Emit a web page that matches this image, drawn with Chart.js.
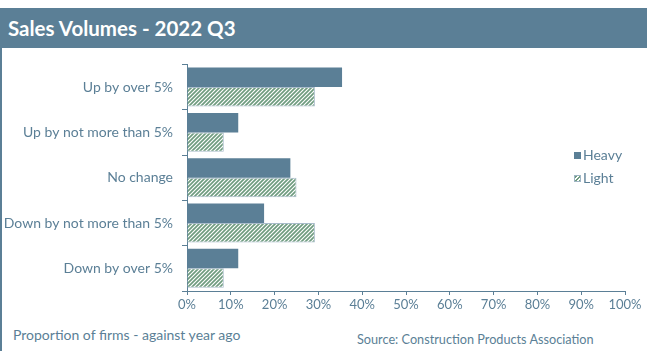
<!DOCTYPE html>
<html>
<head>
<meta charset="utf-8">
<script src="https://cdn.jsdelivr.net/npm/chart.js@4/dist/chart.umd.min.js"></script>
<style>
  html, body { margin: 0; padding: 0; background: #fff; }
  body { width: 647px; height: 351px; position: relative; overflow: hidden; font-family: Lato, "Open Sans", sans-serif; color: #5b7f96; }
  .title-bar { position: absolute; left: 0; top: 8px; width: 647px; height: 40px; background: #5b7f96; }
  .title-bar h1 { margin: 0; padding-left: 8px; font-size: 20.5px; line-height: 40px; font-weight: bold; color: #fff; }
  .side-rule { position: absolute; left: 0; top: 48px; width: 2px; height: 303px; background: #5b7f96; }
  .chart-wrap { position: absolute; left: 0; top: 47px; width: 647px; height: 268px; }
  .legend { position: absolute; left: 574px; top: 146px; font-size: 14px; }
  .legend div { height: 23px; line-height: 18px; }
  .legend span.swatch { display: inline-block; width: 7px; height: 7px; margin-right: 2px; vertical-align: 1px; box-sizing: border-box; }
  .legend span.hatched { border: 1px solid #9fb5c4; background: repeating-linear-gradient(135deg, #6f9c7f 0 1.5px, #ffffff 1.5px 3px); }
  .note { position: absolute; font-size: 14px; }
</style>
</head>
<body>
  <div class="title-bar"><h1>Sales Volumes - 2022 Q3</h1></div>
  <div class="side-rule"></div>
  <div class="chart-wrap"><canvas id="sales-chart" width="647" height="268"></canvas></div>
  <div class="legend" id="legend"></div>
  <div class="note" style="left:13px; top:326px;">Proportion of firms - against year ago</div>
  <div class="note" style="left:357px; top:331px; font-size:12.7px;">Source: Construction Products Association</div>

<script>
const categories = ["Up by over 5%", "Up by not more than 5%", "No change", "Down by not more than 5%", "Down by over 5%"];
const heavyValues = [35.4, 11.7, 23.6, 17.6, 11.7];
const lightValues = [29.2, 8.4, 25.0, 29.2, 8.4];
const xTicks = [0, 10, 20, 30, 40, 50, 60, 70, 80, 90, 100];

const axisBlue = "#5b7f96";
const hatchGreen = "#6f9c7f";

// white tile with "/" stripes for the Light series
function hatchPattern() {
  const tile = document.createElement("canvas");
  tile.width = 4;
  tile.height = 4;
  const ctx = tile.getContext("2d");
  ctx.fillStyle = "#ffffff";
  ctx.fillRect(0, 0, 4, 4);
  ctx.strokeStyle = hatchGreen;
  ctx.lineWidth = 1.7;
  ctx.beginPath();
  ctx.moveTo(-1, 5); ctx.lineTo(5, -1);
  ctx.moveTo(-3, 3); ctx.lineTo(3, -3);
  ctx.moveTo(1, 7); ctx.lineTo(7, 1);
  ctx.stroke();
  return ctx.createPattern(tile, "repeat");
}

const lightFill = hatchPattern();

document.getElementById("legend").innerHTML = `
  <div><span class="swatch" style="background:${axisBlue}"></span>Heavy</div>
  <div><span class="swatch hatched"></span>Light</div>
`;

Chart.defaults.font.family = "Lato, 'Open Sans', sans-serif";
Chart.defaults.color = axisBlue;

new Chart(document.getElementById("sales-chart"), {
  type: "bar",
  data: {
    labels: categories,
    datasets: [
      { label: "Heavy", data: heavyValues, backgroundColor: axisBlue, borderWidth: 0 },
      { label: "Light", data: lightValues, backgroundColor: lightFill, borderColor: "#a9bccb", borderWidth: 1 },
    ],
  },
  options: {
    indexAxis: "y",
    responsive: false,
    animation: false,
    layout: { padding: { top: 15, right: 22, left: 0, bottom: 0 } },
    datasets: { bar: { categoryPercentage: 0.86, barPercentage: 1.0 } },
    plugins: { legend: { display: false }, tooltip: { enabled: false } },
    scales: {
      x: {
        min: 0,
        max: 100,
        afterFit: (scale) => { scale.height = 24; },
        afterBuildTicks: (scale) => { scale.ticks = xTicks.map((v) => ({ value: v })); },
        ticks: { callback: (v) => v + "%", font: { size: 13 }, padding: 2, maxRotation: 0 },
        grid: { drawOnChartArea: false, tickLength: 4, color: axisBlue },
        border: { color: axisBlue, width: 1 },
      },
      y: {
        afterFit: (scale) => { scale.width = 187; },
        ticks: { font: { size: 14 }, padding: 9 },
        grid: { drawOnChartArea: false, tickLength: 5, color: axisBlue },
        border: { color: axisBlue, width: 1 },
      },
    },
  },
});
</script>
</body>
</html>
